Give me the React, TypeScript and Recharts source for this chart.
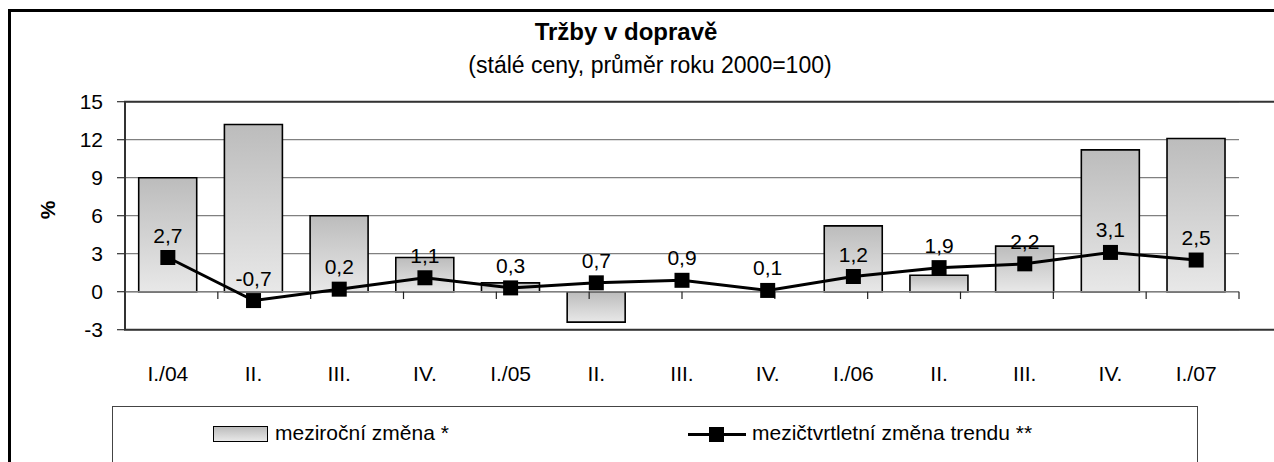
import React from 'react';
import {
  ComposedChart,
  Bar,
  Line,
  XAxis,
  YAxis,
  CartesianGrid,
  ReferenceLine,
  ReferenceArea,
  LabelList,
} from 'recharts';

const title = 'Tržby v dopravě';
const subtitle = '(stálé ceny, průměr roku 2000=100)';
const yAxisTitle = '%';
const categories = ['I./04', 'II.', 'III.', 'IV.', 'I./05', 'II.', 'III.', 'IV.', 'I./06', 'II.', 'III.', 'IV.', 'I./07'];
const yoyChange = [9.0, 13.2, 6.0, 2.7, 0.7, -2.4, 0.0, 0.0, 5.2, 1.3, 3.6, 11.2, 12.1];
const trendChange = [2.7, -0.7, 0.2, 1.1, 0.3, 0.7, 0.9, 0.1, 1.2, 1.9, 2.2, 3.1, 2.5];
const yTicks = [-3, 0, 3, 6, 9, 12, 15];
const seriesNames = ['meziroční změna *', 'mezičtvrtletní změna trendu **'];

const data = categories.map((c, i) => ({ cat: c, yoy: yoyChange[i], trend: trendChange[i] }));
const boundaries = categories.slice(1).map((_, i) => i + 1);

const FONT = "'Liberation Sans', Arial, sans-serif";

const SquareDot = (props: any) => {
  const { cx, cy, index } = props;
  if (cx == null || cy == null) return null;
  return <rect key={`d${index}`} x={cx - 7.5} y={cy - 7.5} width={15} height={15} fill="#000" />;
};

export default function App() {
  return (
    <div style={{ position: 'absolute', left: 0, top: 0, width: 1274, height: 462, background: '#fff', overflow: 'hidden', fontFamily: FONT }}>
      <div style={{ position: 'absolute', left: 8, top: 9, width: 1400, height: 600, border: '3px solid #000', boxSizing: 'border-box' }} />
      <div style={{ position: 'absolute', left: 426, width: 400, top: 17, textAlign: 'center', fontSize: 24, fontWeight: 'bold', lineHeight: '30px', color: '#000' }}>{title}</div>
      <div style={{ position: 'absolute', left: 350, width: 600, top: 50, textAlign: 'center', fontSize: 23, lineHeight: '30px', color: '#000' }}>{subtitle}</div>
      <div style={{ position: 'absolute', left: 28, top: 198, width: 40, height: 24, lineHeight: '24px', textAlign: 'center', fontSize: 21, fontWeight: 'bold', transform: 'rotate(-90deg)' }}>{yAxisTitle}</div>
      <div style={{ position: 'absolute', left: 0, top: 0 }}>
        <ComposedChart
          width={1274}
          height={462}
          data={data}
          margin={{ top: 101.7, right: 35, bottom: 72.3, left: 65 }}
          barCategoryGap="16%"
        >
          <defs>
            <linearGradient id="barGrad" x1="0" y1="0" x2="0" y2="1">
              <stop offset="0%" stopColor="#bcbcbc" />
              <stop offset="100%" stopColor="#e8e8e8" />
            </linearGradient>
          </defs>
          <CartesianGrid vertical={false} stroke="#808080" strokeWidth={1.2} />
          <XAxis
            dataKey="cat"
            axisLine={false}
            tickLine={false}
            tickSize={0}
            tickMargin={36}
            height={60}
            interval={0}
            tick={{ fill: '#000', fontSize: 21, fontFamily: FONT }}
          />
          <XAxis xAxisId="n" type="number" domain={[0, 13]} hide allowDataOverflow />
          <YAxis
            domain={[-3, 15]}
            ticks={yTicks}
            width={60}
            interval={0}
            axisLine={{ stroke: '#333', strokeWidth: 1.5 }}
            tickLine={{ stroke: '#333', strokeWidth: 1.2 }}
            tickSize={8}
            tickMargin={14}
            tick={{ fill: '#000', fontSize: 21, fontFamily: FONT }}
            allowDataOverflow
          />
          <ReferenceArea xAxisId="n" x1={0} x2={13} y1={-3} y2={15} fill="none" stroke="#333" strokeWidth={2} ifOverflow="visible" />
          <ReferenceLine y={0} stroke="#808080" strokeWidth={1.5} />
          {boundaries.map((b) => (
            <ReferenceLine
              key={`b${b}`}
              xAxisId="n"
              segment={[{ x: b, y: 0 }, { x: b, y: -0.58 }]}
              stroke="#222"
              strokeWidth={1.2}
              ifOverflow="visible"
            />
          ))}
          <Bar dataKey="yoy" name={seriesNames[0]} fill="url(#barGrad)" stroke="#000" strokeWidth={1.6} isAnimationActive={false} />
          <Line
            dataKey="trend"
            name={seriesNames[1]}
            type="linear"
            stroke="#000"
            strokeWidth={3}
            dot={SquareDot}
            activeDot={false}
            isAnimationActive={false}
          >
            <LabelList
              dataKey="trend"
              position="top"
              offset={15}
              formatter={(v: any) => String(v.toFixed ? v.toFixed(1) : v).replace('.', ',')}
              style={{ fill: '#000', fontSize: 21, fontFamily: FONT }}
            />
          </Line>
        </ComposedChart>
      </div>
      <div style={{ position: 'absolute', left: 112, top: 406, width: 1086, height: 70, border: '1.5px solid #444', boxSizing: 'border-box', background: '#fff' }}>
        <div style={{ position: 'absolute', left: 100, top: 19, width: 55, height: 16, border: '1.5px solid #000', boxSizing: 'border-box', background: 'linear-gradient(#bcbcbc, #e8e8e8)' }} />
        <div style={{ position: 'absolute', left: 162, top: 12, fontSize: 21, lineHeight: '28px', whiteSpace: 'nowrap', color: '#000' }}>{seriesNames[0]}</div>
        <div style={{ position: 'absolute', left: 575, top: 26, width: 58, height: 3, background: '#000' }} />
        <div style={{ position: 'absolute', left: 596, top: 20, width: 15, height: 15, background: '#000' }} />
        <div style={{ position: 'absolute', left: 639, top: 12, fontSize: 21, lineHeight: '28px', whiteSpace: 'nowrap', color: '#000' }}>{seriesNames[1]}</div>
      </div>
    </div>
  );
}
